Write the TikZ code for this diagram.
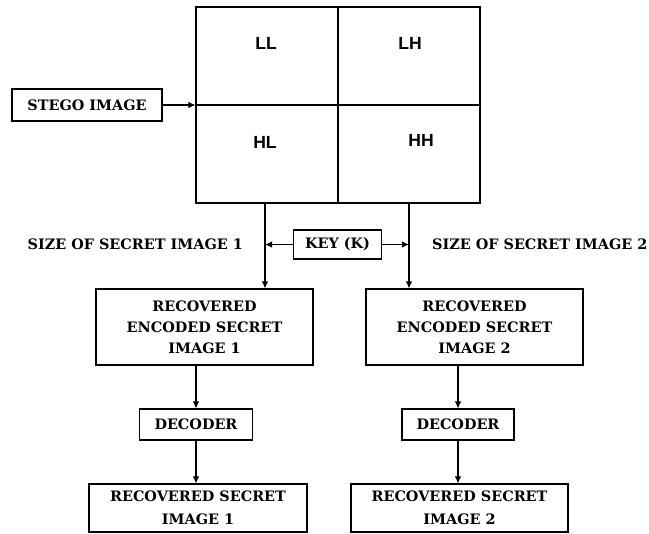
\documentclass[tikz,border=0pt]{standalone}
\usepackage{fontspec}
\setmainfont{DejaVu Serif}
\setsansfont{Liberation Sans}
\usetikzlibrary{positioning,calc,arrows.meta}

\begin{document}
\begin{tikzpicture}[x=0.03cm,y=-0.03cm,
  font=\bfseries\fontsize{12.3}{18}\selectfont,
  box/.style={draw,line width=0.9pt,align=center,inner sep=0pt},
  band/.style={font=\sffamily\bfseries\fontsize{15}{17}\selectfont},
  arr/.style={-{Latex[length=6pt,width=5.5pt]},line width=0.9pt}]
    \useasboundingbox (0,0) rectangle (649,533);
    % wavelet bands
    \node[box,minimum width=8.52cm,minimum height=5.88cm] (grid) at (338,105) {};
    \draw[line width=0.9pt] (grid.north) -- (grid.south);
    \draw[line width=0.9pt] (grid.west) -- (grid.east);
    \node[band] (ll) at (266,43) {LL};
    \node[band] (lh) at (410,43) {LH};
    \node[band] (hl) at (265,142) {HL};
    \node[band] (hh) at (421,140) {HH};
    \node[box,minimum width=4.5cm,minimum height=0.96cm] (stego) at (87,105) {STEGO IMAGE};
    \draw[arr] (stego) -- (grid.west);
    %
    \coordinate (tap1) at (265,203);
    \coordinate (tap2) at (409,203);
    \node[box,minimum width=2.64cm,minimum height=0.87cm] (key) at (337.5,244.5) {KEY (K)};
    \node[anchor=east] (size1) at (247,244) {SIZE OF SECRET IMAGE 1};
    \node[anchor=west] (size2) at (428,244) {SIZE OF SECRET IMAGE 2};
    \draw[arr] (key.west) -- (key.west -| tap1);
    \draw[arr] (key.east) -- (key.east -| tap2);
    %
    \node[box,minimum width=6.51cm,minimum height=2.28cm] (rec1) at (204.5,327) {RECOVERED\\ENCODED SECRET\\IMAGE 1};
    \node[box,minimum width=6.51cm,minimum height=2.28cm] (rec2) at (474.5,327) {RECOVERED\\ENCODED SECRET\\IMAGE 2};
    \draw[arr] (tap1) -- (tap1 |- rec1.north);
    \draw[arr] (tap2) -- (tap2 |- rec2.north);
    %
    \node[box,minimum width=3.39cm,minimum height=0.93cm] (dec1) at (196,424.5) {DECODER};
    \node[box,minimum width=3.36cm,minimum height=0.93cm] (dec2) at (458,424.5) {DECODER};
    \draw[arr] (dec1.north |- rec1.south) -- (dec1.north);
    \draw[arr] (dec2.north |- rec2.south) -- (dec2.north);
    %
    \node[box,minimum width=6.54cm,minimum height=1.44cm,font=\bfseries\fontsize{12.3}{20}\selectfont] (fin1) at (198,508) {RECOVERED SECRET\\IMAGE 1};
    \node[box,minimum width=6.51cm,minimum height=1.44cm,font=\bfseries\fontsize{12.3}{20}\selectfont] (fin2) at (459.5,508) {RECOVERED SECRET\\IMAGE 2};
    \draw[arr] (dec1.south) -- (dec1.south |- fin1.north);
    \draw[arr] (dec2.south) -- (dec2.south |- fin2.north);
\end{tikzpicture}
\end{document}
